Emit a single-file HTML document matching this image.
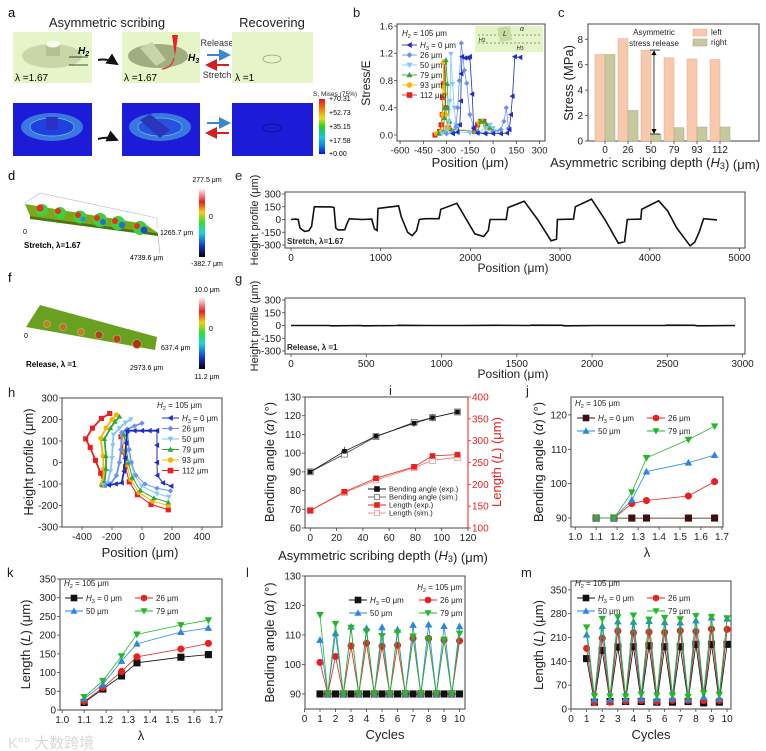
<!DOCTYPE html>
<html><head><meta charset="utf-8"><title>Asymmetric scribing figure</title>
<style>
html,body{margin:0;padding:0;background:#fff;}
svg{display:block;font-family:"Liberation Sans",Arial,sans-serif;}
</style></head>
<body>
<svg id="fig" xmlns="http://www.w3.org/2000/svg" width="766" height="751" viewBox="0 0 766 751">
<defs>
<linearGradient id="gMises" x1="0" y1="0" x2="0" y2="1">
<stop offset="0" stop-color="#e81010"/><stop offset="0.2" stop-color="#f08a10"/><stop offset="0.35" stop-color="#e8e010"/><stop offset="0.5" stop-color="#20d020"/><stop offset="0.7" stop-color="#10c8e0"/><stop offset="0.85" stop-color="#1080f0"/><stop offset="1" stop-color="#1010e0"/>
</linearGradient>
<linearGradient id="gHeight" x1="0" y1="0" x2="0" y2="1">
<stop offset="0" stop-color="#ffffff"/><stop offset="0.2" stop-color="#e82020"/><stop offset="0.35" stop-color="#f0d010"/><stop offset="0.5" stop-color="#30e030"/><stop offset="0.65" stop-color="#20d0e0"/><stop offset="0.85" stop-color="#1030d0"/><stop offset="1" stop-color="#000010"/>
</linearGradient>
<marker id="ahB" markerWidth="6" markerHeight="6" refX="5" refY="3" orient="auto"><path d="M0,0 L6,3 L0,6 z" fill="#111"/></marker>
<marker id="ahBl" markerWidth="6" markerHeight="6" refX="5" refY="3" orient="auto"><path d="M0,0 L6,3 L0,6 z" fill="#3a86d0"/></marker>
<marker id="ahR" markerWidth="6" markerHeight="6" refX="5" refY="3" orient="auto"><path d="M0,0 L6,3 L0,6 z" fill="#d02020"/></marker>
</defs>

<g>
<text x="8" y="17" font-size="13">a</text>
<text x="107" y="27" font-size="13" text-anchor="middle" fill="#222">Asymmetric scribing</text>
<text x="272" y="27" font-size="13" text-anchor="middle" fill="#222">Recovering</text>
<rect x="13" y="32" width="79" height="51" fill="#e6f5c8"/>
<ellipse cx="52" cy="56" rx="30" ry="12" fill="#c9d6a8"/>
<rect x="46" y="44" width="14" height="12" fill="#b3c290"/>
<ellipse cx="53" cy="44" rx="7" ry="3.5" fill="#fafaf0"/>
<line x1="69" y1="57" x2="88" y2="57" stroke="#111" stroke-width="0.7"/>
<line x1="69" y1="65" x2="88" y2="65" stroke="#111" stroke-width="0.7"/>
<text x="78" y="54" font-size="10" font-weight="bold" font-style="italic">H<tspan font-size="7" dy="2">2</tspan></text>
<text x="15" y="81" font-size="10">λ =1.67</text>
<path d="M98,60 Q108,58 117,64" stroke="#111" stroke-width="2" fill="none" marker-end="url(#ahB)"/>
<rect x="122" y="32" width="78" height="51" fill="#e6f5c8"/>
<ellipse cx="158" cy="56" rx="30" ry="12" fill="#9eae80"/>
<polygon points="140,48 152,42 166,60 156,66" fill="#c8d5a8"/>
<polygon points="172,35 178,35 175,56" fill="#e82020"/>
<path d="M174,58 Q172,68 162,69" stroke="#e03030" stroke-width="1.2" fill="none"/>
<text x="188" y="61" font-size="10" font-weight="bold" font-style="italic">H<tspan font-size="7" dy="2">3</tspan></text>
<text x="124" y="81" font-size="10">λ =1.67</text>
<text x="217" y="46" font-size="9" text-anchor="middle" fill="#333">Release</text>
<line x1="207" y1="55" x2="229" y2="55" stroke="#3a86d0" stroke-width="2" marker-end="url(#ahBl)"/>
<line x1="229" y1="65" x2="207" y2="65" stroke="#d02020" stroke-width="2" marker-end="url(#ahR)"/>
<text x="217" y="78" font-size="9" text-anchor="middle" fill="#333">Stretch</text>
<rect x="232" y="32" width="81" height="51" fill="#e6f5c8"/>
<ellipse cx="272" cy="59" rx="9" ry="4" fill="none" stroke="#9a9a80" stroke-width="0.8"/>
<text x="235" y="81" font-size="10">λ =1</text>
<rect x="13" y="103" width="79" height="53" fill="#1c1cd8"/>
<ellipse cx="52" cy="127" rx="31" ry="14" fill="#3a78e0"/>
<ellipse cx="52" cy="127" rx="22" ry="9" fill="#2040e0" stroke="#60c0e0" stroke-width="0.7"/>
<rect x="46" y="117" width="12" height="13" fill="#2a30c8"/>
<rect x="122" y="103" width="78" height="53" fill="#1c1cd8"/>
<ellipse cx="160" cy="127" rx="31" ry="14" fill="#3a78e0"/>
<ellipse cx="160" cy="127" rx="22" ry="9" fill="#2a50e0" stroke="#60c0e0" stroke-width="0.7"/>
<polygon points="140,120 150,114 170,130 160,138" fill="#2a36b8"/>
<path d="M98,139 Q108,136 117,140" stroke="#111" stroke-width="2" fill="none" marker-end="url(#ahB)"/>
<line x1="207" y1="123" x2="229" y2="123" stroke="#3a86d0" stroke-width="2" marker-end="url(#ahBl)"/>
<line x1="229" y1="133" x2="207" y2="133" stroke="#d02020" stroke-width="2" marker-end="url(#ahR)"/>
<rect x="232" y="103" width="81" height="53" fill="#1c1cd8"/>
<ellipse cx="272" cy="128" rx="9" ry="4" fill="none" stroke="#101070" stroke-width="0.8"/>
<text x="313" y="96" font-size="6.5" fill="#222">S, Mises (75%)</text>
<rect x="319" y="99" width="6" height="55" fill="url(#gMises)"/>
<text x="329" y="101" font-size="7">+70.31</text>
<text x="329" y="115" font-size="7">+52.73</text>
<text x="329" y="129" font-size="7">+35.15</text>
<text x="329" y="143" font-size="7">+17.58</text>
<text x="329" y="156" font-size="7">+0.00</text>
</g>

<g>
<text x="8" y="180" font-size="13">d</text>
<polyline points="25,203 40,193 157,218 157,228" fill="none" stroke="#bbb" stroke-width="0.6"/>
<polygon points="25,204 145,224 158,233 30,216" fill="#7aa818"/>
<polygon points="30,216 158,233 158,236 30,219" fill="#4a7810"/>
<g>
<circle cx="42" cy="210" r="6" fill="#3ed040"/><circle cx="40" cy="208" r="3.5" fill="#e83020"/>
<circle cx="60" cy="213" r="6" fill="#3ed040"/><circle cx="58" cy="211" r="3" fill="#e83020"/>
<circle cx="80" cy="217" r="6.5" fill="#3ed040"/><circle cx="78" cy="215" r="3" fill="#e83020"/><circle cx="83" cy="219" r="2.5" fill="#2090e0"/>
<circle cx="100" cy="220" r="7" fill="#3ed040"/><circle cx="97" cy="218" r="3" fill="#e83020"/><circle cx="103" cy="222" r="3" fill="#2070d0"/>
<circle cx="118" cy="223" r="7" fill="#3ed040"/><circle cx="115" cy="221" r="3" fill="#e83020"/><circle cx="122" cy="225" r="3.2" fill="#2070d0"/>
<circle cx="140" cy="228" r="7" fill="#3ed040"/><circle cx="137" cy="226" r="3" fill="#e83020"/><circle cx="144" cy="230" r="3.5" fill="#1850c0"/>
</g>
<line x1="158" y1="236" x2="160" y2="254" stroke="#aaa" stroke-width="0.6"/>
<text x="23" y="234" font-size="7">0</text>
<text x="160" y="235" font-size="7">1265.7 μm</text>
<text x="130" y="260" font-size="7">4739.6 μm</text>
<text x="24" y="248" font-size="8" font-weight="bold">Stretch, λ=1.67</text>
<rect x="199" y="188" width="6" height="69" fill="url(#gHeight)"/>
<text x="207" y="182" font-size="7" text-anchor="middle">277.5 μm</text>
<text x="209" y="219" font-size="7">0</text>
<text x="207" y="266" font-size="7" text-anchor="middle">-382.7 μm</text>
</g>

<g>
<text x="8" y="282" font-size="13">f</text>
<polygon points="40,305 157,337 155,350 26,327" fill="#6aa020"/>
<g>
<circle cx="47" cy="324" r="3.5" fill="#c87a28" stroke="#a0c060" stroke-width="0.8"/>
<circle cx="63" cy="327" r="3.5" fill="#c86a28" stroke="#a0c060" stroke-width="0.8"/>
<circle cx="81" cy="332" r="3.5" fill="#c87a28" stroke="#a0c060" stroke-width="0.8"/>
<circle cx="99" cy="335" r="4" fill="#b84020" stroke="#a0c060" stroke-width="0.8"/>
<circle cx="117" cy="339" r="4" fill="#b84020" stroke="#a0c060" stroke-width="0.8"/>
<circle cx="137" cy="344" r="4.5" fill="#b03018" stroke="#a0c060" stroke-width="0.8"/>
</g>
<text x="24" y="338" font-size="7">0</text>
<text x="161" y="350" font-size="7">637.4 μm</text>
<text x="130" y="370" font-size="7">2973.6 μm</text>
<text x="26" y="367" font-size="8" font-weight="bold">Release, λ =1</text>
<rect x="199" y="297" width="6" height="72" fill="url(#gHeight)"/>
<text x="207" y="292" font-size="7" text-anchor="middle">10.0 μm</text>
<text x="209" y="331" font-size="7">0</text>
<text x="207" y="379" font-size="7" text-anchor="middle">11.2 μm</text>
</g>

<text x="8" y="748" font-size="15" fill="#d8d8d8" font-family="Liberation Sans, Noto Sans CJK SC, sans-serif">K°° 大数跨境</text>
</svg>

<script>
// ---------- DATA ----------
const bLabels=['0','26','50','79','93','112'];
const bX0=[-260,-230,-215,-208,-205,-200,-180,-160,-150,-135,-125,-100,-50,0,50,90,105,115,125,140,175];
const bY0=[0.02,0.04,0.15,0.5,0.9,1.15,1.13,1.13,1.15,0.6,0.1,0.03,0.02,0.02,0.02,0.03,0.08,0.3,0.57,1.15,1.14];
const bX26=[-300,-260,-240,-228,-218,-205,-185,-170,-150,-125,-100,-50,0,50,70,85,100];
const bY26=[0.02,0.04,0.12,0.4,0.8,1.35,0.95,0.76,0.3,0.12,0.04,0.03,0.05,0.08,0.2,0.4,0.1];
const bX50=[-330,-300,-285,-278,-272,-262,-250,-240,-225,-150,-100,-50,-20,0,30];
const bY50=[0.02,0.05,0.2,0.5,1.19,0.75,0.4,0.15,0.05,0.03,0.03,0.1,0.15,0.1,0.05];
const bX79=[-350,-320,-315,-310,-304,-295,-290,-280,-270,-100,-80,-60,-40,-20,0];
const bY79=[0.02,0.05,0.25,0.4,1.1,0.75,0.4,0.2,0.08,0.05,0.2,0.2,0.15,0.1,0.05];
const bX93=[-365,-335,-325,-322,-320,-312,-305,-295,-110,-90,-70,-50,-30];
const bY93=[0.02,0.05,0.3,0.7,1.07,0.6,0.3,0.1,0.05,0.18,0.2,0.15,0.1];
const bX112=[-375,-345,-335,-328,-325,-320,-314,-305,-295,-120,-100,-80,-60,-40];
const bY112=[0.0,0.05,0.15,0.3,0.55,0.75,1.07,0.4,0.1,0.05,0.15,0.2,0.2,0.12];
const bXTicks=[-600,-450,-300,-150,0,150,300];
const bYTicks=[0,0.4,0.8,1.2,1.6];
const cCats=['0','26','50','79','93','112'];
const cLeft=[6.8,8.05,7.15,6.55,6.45,6.4];
const cRight=[6.8,2.4,0.55,1.05,1.1,1.1];
const cYTicks=[0,2,4,6,8];
const ePos=[0,50,80,100,150,200,230,260,300,450,480,500,530,600,620,650,700,800,900,930,960,970,1200,1230,1300,1350,1400,1430,1500,1650,1670,1850,1900,2050,2150,2200,2220,2400,2420,2600,2750,2900,2960,2970,3150,3170,3350,3500,3650,3720,3750,3900,3910,4100,4200,4300,4450,4500,4550,4600,4750];
const eHeight=[0,5,0,-100,-140,-130,-80,150,150,148,140,-100,-125,-120,-60,10,5,0,5,-110,-130,130,160,30,-150,-190,-130,0,10,10,120,190,100,-170,-200,-130,0,0,140,215,0,-250,-230,0,5,150,240,0,-280,-260,0,5,120,220,100,-100,-310,-270,-150,10,-5];
const eXTicks=[0,1000,2000,3000,4000,5000];
const eYTicks=[300,150,0,-150,-300];
const gPos=[0,250,270,460,480,700,720,900,1150,1350,1580,1600,1800,1820,2030,2250,2480,2500,2680,2700,2950];
const gHeight=[0,0,-3,0,-3,0,2,0,0,2,0,4,2,-3,0,0,0,3,2,-3,0];
const gXTicks=[0,500,1000,1500,2000,2500,3000];
const gYTicks=[300,150,0,-150,-300];
const hLabels=['0','26','50','79','93','112'];
const hArm1X=[[-220,-175,-135,-120,-112,-105,-100,-50,0,50,100],[-240,-210,-170,-150,-140,-135,-100,-50,0],[-255,-230,-210,-200,-195,-190,-150,-110,-75],[-265,-250,-240,-240,-250,-210,-180,-150],[-270,-260,-255,-260,-275,-240,-200,-170],[-250,-275,-310,-345,-375,-330,-270,-215]];
const hArm1Y=[[-105,-100,-95,-40,20,90,148,148,148,148,148],[-105,-100,-60,0,60,140,155,170,183],[-105,-95,-40,20,80,130,160,185,200],[-105,-90,-30,30,110,160,190,213],[-105,-90,-30,30,112,160,200,222],[-105,-50,10,70,110,160,205,228]];
const hArm2X=[[100,100,100,102,140,195],[-95,-85,-70,-40,20,100,190],[-100,-90,-75,-50,0,100,180],[-120,-105,-90,-65,-10,80,175],[-130,-115,-100,-75,-20,70,175],[-140,-125,-110,-85,-30,60,175]];
const hArm2Y=[[148,80,0,-60,-95,-110],[140,60,0,-60,-100,-120,-132],[135,60,0,-60,-110,-145,-160],[130,60,0,-70,-130,-165,-185],[125,50,-10,-80,-140,-180,-200],[120,50,-20,-90,-150,-195,-220]];
const hXTicks=[-400,-200,0,200,400];
const hYTicks=[-300,-200,-100,0,100,200,300];
const iDepth=[0,26,50,79,93,112];
const iAngleExp=[90,101,109,116,119,122];
const iAngleSim=[90,99.5,108.8,116.5,119,122];
const iAngleErr=[0.5,2.5,0.8,2,2,1.5];
const iLenExp=[140,183,214,240,265,268];
const iLenSim=[140,181,210,238,255,262];
const iLenErr=[5,4,5,4,3,4];
const iXTicks=[0,20,40,60,80,100,120];
const iYTicks=[60,70,80,90,100,110,120,130];
const iY2Ticks=[100,150,200,250,300,350,400];
const lambdaVals=[1.1,1.185,1.27,1.34,1.54,1.665];
const jAngle0=[90,90,90,90,90,90];
const jAngle26=[90,90,94.2,95.1,96.4,100.6];
const jAngle50=[90,90,95.3,103.5,106.1,108.3];
const jAngle79=[90,90,97.5,107.5,112.8,116.7];
const jXTicks=[1.0,1.1,1.2,1.3,1.4,1.5,1.6,1.7];
const jYTicks=[90,100,110,120];
const kLen0=[20,56,91,126,141,148];
const kLen26=[23,60,103,142,163,178];
const kLen50=[30,68,131,177,208,219];
const kLen79=[35,78,144,202,227,240];
const kYTicks=[0,50,100,150,200,250,300,350];
const cycles=[1,1.5,2,2.5,3,3.5,4,4.5,5,5.5,6,6.5,7,7.5,8,8.5,9,9.5,10];
const lAngle0=[90,90,90,90,90,90,90,90,90,90,90,90,90,90,90,90,90,90,90];
const lAngle26=[100.7,90,102.7,90,106.3,90,107.2,90,106.2,90,106.5,90,108.9,90,108.8,90,108.3,90,108];
const lAngle50=[108.3,90,110.6,90,112.8,90,112.3,90,112.6,90,111.8,90,113.4,90,113.5,90,113,90,112.9];
const lAngle79=[116.8,90,113.8,90,112.5,90,111.2,90,109.7,90,110.8,90,109.5,90,108.6,90,108.4,90,110.5];
const mLen0=[148,20,172,22,182,22,183,22,186,20,183,20,183,22,190,18,190,20,190];
const mLen26=[178,20,208,20,229,23,224,25,226,22,225,25,230,25,228,25,235,25,234];
const mLen50=[218,28,243,28,257,30,256,30,258,30,255,30,254,28,260,35,268,30,265];
const mLen79=[240,38,265,37,270,37,275,43,263,40,268,40,264,36,274,47,271,42,267];
const cycTicks=[0,1,2,3,4,5,6,7,8,9,10];
const lYTicks=[90,100,110,120,130];
const mYTicks=[0,70,140,210,280,350];

// ---------- HELPERS ----------
const NS='http://www.w3.org/2000/svg';
const svg=document.getElementById('fig');
function E(tag,attrs,name,parent){
  const e=document.createElementNS(NS,tag);
  for(const k in attrs) e.setAttribute(k,attrs[k]);
  
  
  (parent||svg).appendChild(e);
  return e;
}
function T(x,y,html,size,anchor,name,parent,extra){
  const t=E('text',Object.assign({x:x,y:y,'font-size':size,'text-anchor':anchor||'middle',fill:'#222'},extra||{}),name,parent);
  t.innerHTML=html;
  return t;
}
function lin(d0,d1,r0,r1){return v=>r0+(v-d0)*(r1-r0)/(d1-d0);}
function frame(g,p,name){
  E('rect',{x:p.x0,y:p.y0,width:p.x1-p.x0,height:p.y1-p.y0,fill:'none',stroke:'#444','stroke-width':1},name+'-frame',g);
  const fs=p.fs||10;
  p.xt.forEach(v=>{
    const x=p.X(v);
    E('line',{x1:x,y1:p.y1,x2:x,y2:p.y1+3,stroke:'#444','stroke-width':0.8},name+'-x-tick',g);
    T(x,p.y1+4+fs*0.9,(p.xf?p.xf(v):String(v)),fs,'middle',name+'-x-tick-label',g);
  });
  p.yt.forEach(v=>{
    const y=p.Y(v);
    E('line',{x1:p.x0-3,y1:y,x2:p.x0,y2:y,stroke:'#444','stroke-width':0.8},name+'-y-tick',g);
    T(p.x0-4,y+fs*0.35,(p.yf?p.yf(v):String(v)),fs,'end',name+'-y-tick-label',g);
  });
}
function ylabel(g,x,y,html,size,name,color){
  T(x,y,html,size,'middle',name,g,{transform:'rotate(-90 '+x+' '+y+')',fill:color||'#222'});
}
function mark(g,type,x,y,s,color,fill,name){
  const h=s/2;let e;
  if(type==='sq') e=E('rect',{x:x-h,y:y-h,width:s,height:s},name,g);
  else if(type==='ci') e=E('circle',{cx:x,cy:y,r:h},name,g);
  else if(type==='tu') e=E('polygon',{points:(x)+','+(y-h)+' '+(x+h)+','+(y+h*0.8)+' '+(x-h)+','+(y+h*0.8)},name,g);
  else if(type==='td') e=E('polygon',{points:(x)+','+(y+h)+' '+(x+h)+','+(y-h*0.8)+' '+(x-h)+','+(y-h*0.8)},name,g);
  else if(type==='tl') e=E('polygon',{points:(x-h)+','+y+' '+(x+h*0.8)+','+(y-h)+' '+(x+h*0.8)+','+(y+h)},name,g);
  else e=E('polygon',{points:x+','+(y-h)+' '+(x+h)+','+y+' '+x+','+(y+h)+' '+(x-h)+','+y},name,g);
  e.setAttribute('fill',fill||color);
  e.setAttribute('stroke',color);
  e.setAttribute('stroke-width',0.6);
  return e;
}
function series(g,xs,ys,X,Y,color,type,size,name,lw,fill){
  const pts=xs.map((v,i)=>X(v).toFixed(1)+','+Y(ys[i]).toFixed(1)).join(' ');
  E('polyline',{points:pts,fill:'none',stroke:color,'stroke-width':lw||0.8},name+'-line',g);
  xs.forEach((v,i)=>mark(g,type,X(v),Y(ys[i]),size,color,fill,name+'-point'));
}
function legendEntry(g,x,y,len,color,type,size,label,fs,name){
  E('line',{x1:x,y1:y,x2:x+len,y2:y,stroke:color,'stroke-width':0.9},name+'-line',g);
  mark(g,type,x+len/2,y,size,color,null,name+'-marker');
  T(x+len+3,y+fs*0.35,label,fs,'start',name+'-label',g);
}
const H2='<tspan font-style="italic">H</tspan><tspan font-size="70%" dy="2">2</tspan><tspan dy="-2"> = 105 μm</tspan>';
const H3='<tspan font-style="italic">H</tspan><tspan font-size="70%" dy="2">3</tspan><tspan dy="-2">';
function panelLabel(x,y,s){T(x,y,s,13,'start','panel-label-'+s,svg);}

// ---------- PANEL B ----------
(function(){
  const g=E('g',{},'panel-b');
  panelLabel(353,17,'b');
  const X=lin(-620,335,397,545), Y=lin(-0.088,1.63,141,24);
  const clip=E('clipPath',{id:'clipB'},'clip-b',g);
  E('rect',{x:397,y:24,width:148,height:117},'clip-b-rect',clip);
  frame(g,{x0:397,x1:545,y0:24,y1:141,X:X,Y:Y,xt:bXTicks,yt:bYTicks,fs:9.5,yf:v=>v.toFixed(1)},'b');
  const colors=['#1f2fbf','#6f8ff0','#7fc8f8','#2aa83a','#f8b400','#e8201f'];
  const types=['tl','dm','td','tu','ci','sq'];
  const xs=[bX0,bX26,bX50,bX79,bX93,bX112], ys=[bY0,bY26,bY50,bY79,bY93,bY112];
  const sg=E('g',{'clip-path':'url(#clipB)'},'b-series',g);
  for(let i=5;i>=0;i--) series(sg,xs[i],ys[i],X,Y,colors[i],types[i],4.5,'b-series-'+bLabels[i]);
  E('rect',{x:475,y:26,width:68,height:26,fill:'#e3f5c6'},'b-inset',g);
  E('line',{x1:478,y1:35,x2:540,y2:35,stroke:'#333','stroke-width':0.6,'stroke-dasharray':'2,2'},'b-inset-line',g);
  E('line',{x1:478,y1:43,x2:540,y2:43,stroke:'#333','stroke-width':0.6,'stroke-dasharray':'2,2'},'b-inset-line-2',g);
  E('polygon',{points:'497,28 510,26 512,40 500,42',fill:'#c8d9a4'},'b-inset-pillar',g);
  T(505,36,'<tspan font-style="italic">L</tspan>',7,'middle','b-inset-L',g);
  T(522,31,'<tspan font-style="italic">α</tspan>',7,'middle','b-inset-alpha',g);
  T(482,42,'<tspan font-style="italic">H</tspan><tspan font-size="5">2</tspan>',6,'middle','b-inset-h2',g);
  T(520,50,'<tspan font-style="italic">H</tspan><tspan font-size="5">3</tspan>',6,'middle','b-inset-h3',g);
  T(402,36,H2,8,'start','b-legend-title',g);
  bLabels.forEach((l,i)=>{
    legendEntry(g,402,45+i*10,15,colors[i],types[i],5,(i===0?H3+' = 0 μm</tspan>':l+' μm'),8,'b-legend-'+l);
  });
  ylabel(g,370,83,'Stress/E',12,'b-y-axis-title');
  T(470,167,'Position (μm)',13,'middle','b-x-axis-title',g);
})();

// ---------- PANEL C ----------
(function(){
  const g=E('g',{},'panel-c');
  panelLabel(558,17,'c');
  const Y=lin(0,9.2,141,24);
  const cx=i=>605+i*23;
  E('rect',{x:588,y:24,width:171,height:117,fill:'none',stroke:'#444','stroke-width':1},'c-frame',g);
  cYTicks.forEach(v=>{E('line',{x1:585,y1:Y(v),x2:588,y2:Y(v),stroke:'#444','stroke-width':0.8},'c-y-tick',g);T(583,Y(v)+3.5,String(v),10,'end','c-y-tick-label',g);});
  cCats.forEach((c,i)=>{
    E('rect',{x:cx(i)-10,y:Y(cLeft[i]),width:10,height:Y(0)-Y(cLeft[i]),fill:'#f9c9ae',stroke:'#e0a890','stroke-width':0.5},'c-bar-left-'+c,g);
    E('rect',{x:cx(i),y:Y(cRight[i]),width:10,height:Y(0)-Y(cRight[i]),fill:'#c8c8a0',stroke:'#a8a880','stroke-width':0.5},'c-bar-right-'+c,g);
    E('line',{x1:cx(i),y1:141,x2:cx(i),y2:144,stroke:'#444','stroke-width':0.8},'c-x-tick',g);
    T(cx(i),153,c,10,'middle','c-x-tick-label',g);
  });
  E('rect',{x:693,y:29,width:14,height:7,fill:'#f9c9ae',stroke:'#e0a890','stroke-width':0.5},'c-legend-left-swatch',g);
  T(711,35,'left',8,'start','c-legend-left-label',g);
  E('rect',{x:693,y:39,width:14,height:7,fill:'#c8c8a0',stroke:'#a8a880','stroke-width':0.5},'c-legend-right-swatch',g);
  T(711,45,'right',8,'start','c-legend-right-label',g);
  T(654,35,'Asymmetric',8,'middle','c-annotation-line1',g);
  T(654,46,'stress release',8,'middle','c-annotation-line2',g);
  const ya=Y(cLeft[2]), yb=Y(cRight[2]);
  E('line',{x1:654,y1:ya+3,x2:654,y2:yb-3,stroke:'#111','stroke-width':0.8},'c-release-arrow',g);
  E('polygon',{points:'654,'+ya+' 651.5,'+(ya+5)+' 656.5,'+(ya+5)},'c-arrowhead-top',g);
  E('polygon',{points:'654,'+yb+' 651.5,'+(yb-5)+' 656.5,'+(yb-5)},'c-arrowhead-bottom',g);
  E('line',{x1:650,y1:ya,x2:660,y2:ya,stroke:'#111','stroke-width':0.8},'c-arrow-cap-top',g);
  E('line',{x1:650,y1:yb,x2:660,y2:yb,stroke:'#111','stroke-width':0.8},'c-arrow-cap-bottom',g);
  ylabel(g,573,83,'Stress (MPa)',13,'c-y-axis-title');
  T(655,167,'Asymmetric scribing depth ('+H3+'</tspan>) (μm)',13,'middle','c-x-axis-title',g);
})();

// ---------- PANEL E / G ----------
function profile(name,label,lx,ly,y0,y1,xmax,pos,hgt,xt,yt,cond){
  const g=E('g',{},'panel-'+name);
  panelLabel(lx,ly,label);
  const X=lin(0,xmax,291,742), Y=lin(-300,300,y1-3,y0+2);
  frame(g,{x0:285,x1:745,y0:y0,y1:y1,X:X,Y:Y,xt:xt,yt:yt,fs:10},name);
  const pts=pos.map((v,i)=>X(v).toFixed(1)+','+Y(hgt[i]).toFixed(1)).join(' ');
  E('polyline',{points:pts,fill:'none',stroke:'#111','stroke-width':1.6},name+'-profile-line',g);
  T(287,y1-4,cond,8,'start',name+'-condition',g,{'font-weight':'bold'});
  ylabel(g,258,(y0+y1)/2,'Height profile (μm)',11,name+'-y-axis-title');
  T(513,y1+24,'Position (μm)',12,'middle',name+'-x-axis-title',g);
}
profile('e','e',235,180,192,248,4750/0.9446,ePos,eHeight,eXTicks,eYTicks,'Stretch, λ=1.67');
profile('g','g',235,283,298,354,2970/0.9913,gPos,gHeight,gXTicks,gYTicks,'Release, λ =1');

// ---------- PANEL H ----------
(function(){
  const g=E('g',{},'panel-h');
  panelLabel(8,397,'h');
  const X=lin(-533,533,62,222), Y=lin(-300,300,527,398);
  frame(g,{x0:62,x1:222,y0:398,y1:527,X:X,Y:Y,xt:hXTicks,yt:hYTicks,fs:10},'h');
  const colors=['#1f2fbf','#6f8ff0','#7fc8f8','#2aa83a','#f8b400','#e8201f'];
  const types=['tl','dm','td','tu','ci','sq'];
  for(let i=5;i>=0;i--){
    series(g,hArm1X[i],hArm1Y[i],X,Y,colors[i],types[i],4.5,'h-series-'+hLabels[i]+'-arm1',1.8);
    series(g,hArm2X[i],hArm2Y[i],X,Y,colors[i],types[i],4.5,'h-series-'+hLabels[i]+'-arm2',1);
  }
  T(157,408,H2,8,'start','h-legend-title',g);
  hLabels.forEach((l,i)=>{
    legendEntry(g,162,418+i*10.5,17,colors[i],types[i],5,(i===0?H3+' = 0 μm</tspan>':l+' μm'),8,'h-legend-'+l);
  });
  ylabel(g,33,462,'Height profile (μm)',13,'h-y-axis-title');
  T(140,557,'Position (μm)',13,'middle','h-x-axis-title',g);
})();

// ---------- PANEL I ----------
(function(){
  const g=E('g',{},'panel-i');
  panelLabel(389,395,'i');
  const X=lin(-4,120,305,468), Y=lin(60,130,528,397), Y2=lin(100,400,528,397);
  frame(g,{x0:305,x1:468,y0:397,y1:528,X:X,Y:Y,xt:iXTicks,yt:iYTicks,fs:10},'i');
  E('line',{x1:468,y1:397,x2:468,y2:528,stroke:'#e8201f','stroke-width':1},'i-right-axis',g);
  iY2Ticks.forEach(v=>{E('line',{x1:468,y1:Y2(v),x2:471,y2:Y2(v),stroke:'#e8201f','stroke-width':0.8},'i-y2-tick',g);T(472,Y2(v)+3.5,String(v),10,'start','i-y2-tick-label',g,{fill:'#e8201f'});});
  iDepth.forEach((d,i)=>{
    E('line',{x1:X(d),y1:Y(iAngleExp[i]-iAngleErr[i]),x2:X(d),y2:Y(iAngleExp[i]+iAngleErr[i]),stroke:'#333','stroke-width':0.7},'i-angle-errorbar',g);
    E('line',{x1:X(d),y1:Y2(iLenExp[i]-iLenErr[i]),x2:X(d),y2:Y2(iLenExp[i]+iLenErr[i]),stroke:'#e8201f','stroke-width':0.7},'i-length-errorbar',g);
  });
  series(g,iDepth,iAngleSim,X,Y,'#444','sq',6,'i-angle-sim',0.8,'#fff');
  series(g,iDepth,iAngleExp,X,Y,'#111','sq',4,'i-angle-exp',0.8);
  series(g,iDepth,iLenSim,X,Y2,'#f07070','sq',6,'i-length-sim',0.8,'#fff');
  series(g,iDepth,iLenExp,X,Y2,'#e8201f','sq',5,'i-length-exp',0.8);
  legendEntry(g,368,489,18,'#111','sq',5,'Bending angle (exp.)',7.5,'i-legend-angle-exp');
  E('line',{x1:368,y1:497,x2:386,y2:497,stroke:'#444','stroke-width':0.8},'i-legend-angle-sim-line',g);
  mark(g,'sq',377,497,5,'#444','#fff','i-legend-angle-sim-marker');
  T(389,499.6,'Bending angle (sim.)',7.5,'start','i-legend-angle-sim-label',g);
  legendEntry(g,368,505,18,'#e8201f','sq',5,'Length (exp.)',7.5,'i-legend-length-exp');
  E('line',{x1:368,y1:513,x2:386,y2:513,stroke:'#f07070','stroke-width':0.8},'i-legend-length-sim-line',g);
  mark(g,'sq',377,513,5,'#f07070','#fff','i-legend-length-sim-marker');
  T(389,515.6,'Length (sim.)',7.5,'start','i-legend-length-sim-label',g);
  ylabel(g,274,462,'Bending angle (<tspan font-style="italic">α</tspan>) (°)',13,'i-y-axis-title');
  ylabel(g,501,462,'Length (<tspan font-style="italic">L</tspan>) (μm)',13,'i-y2-axis-title','#e8201f');
  T(383,560,'Asymmetric scribing depth ('+H3+'</tspan>) (μm)',13,'middle','i-x-axis-title',g);
})();

// ---------- 4-series panels ----------
function fourPanel(cfg){
  const g=E('g',{},'panel-'+cfg.name);
  panelLabel(cfg.lx,cfg.ly,cfg.name);
  frame(g,{x0:cfg.x0,x1:cfg.x1,y0:cfg.y0,y1:cfg.y1,X:cfg.X,Y:cfg.Y,xt:cfg.xt,yt:cfg.yt,fs:10,xf:cfg.xf},cfg.name);
  const colors=[cfg.c0||'#111','#e8201f','#2a86e0','#22b82a'];
  const types=['sq','ci','tu','td'];
  const names=['0','26','50','79'];
  cfg.ys.forEach((ys,i)=>series(g,cfg.xs,ys,cfg.X,cfg.Y,colors[i],types[i],6.5,cfg.name+'-series-'+names[i],0.8));
  const lx=cfg.legX, ly=cfg.legY;
  if(cfg.h2Right) T(cfg.x1-3,ly-10,H2,8,'end',cfg.name+'-legend-title',g);
  else T(cfg.x0+4,ly-12,H2,8,'start',cfg.name+'-legend-title',g);
  legendEntry(g,lx,ly,18,colors[0],'sq',6,H3+(cfg.name==='l'?' =0 μm':' = 0 μm')+'</tspan>',8,cfg.name+'-legend-0');
  legendEntry(g,lx+70,ly,18,colors[1],'ci',6,'26 μm',8,cfg.name+'-legend-26');
  legendEntry(g,lx,ly+13,18,colors[2],'tu',6,'50 μm',8,cfg.name+'-legend-50');
  legendEntry(g,lx+70,ly+13,18,colors[3],'td',6,'79 μm',8,cfg.name+'-legend-79');
  ylabel(g,cfg.ylx,(cfg.y0+cfg.y1)/2,cfg.ytitle,13,cfg.name+'-y-axis-title');
  T((cfg.x0+cfg.x1)/2,cfg.y1+cfg.xtOff,cfg.xtitle,13,'middle',cfg.name+'-x-axis-title',g);
}
const f1=v=>v.toFixed(1);
fourPanel({name:'j',lx:526,ly:395,x0:571,x1:723,y0:397,y1:527,X:lin(0.98,1.705,571,723),Y:lin(87.4,125.2,527,397),xt:jXTicks,yt:jYTicks,xf:f1,xs:lambdaVals,ys:[jAngle0,jAngle26,jAngle50,jAngle79],c0:'#3a1010',legX:577,legY:418,ylx:543,ytitle:'Bending angle (<tspan font-style="italic">α</tspan>) (°)',xtitle:'λ',xtOff:30});
fourPanel({name:'k',lx:7,ly:577,x0:60,x1:222,y0:579,y1:710,X:lin(0.99,1.727,60,222),Y:lin(0,350,710,579),xt:jXTicks,yt:kYTicks,xf:f1,xs:lambdaVals,ys:[kLen0,kLen26,kLen50,kLen79],legX:65,legY:598,ylx:30,ytitle:'Length (<tspan font-style="italic">L</tspan>) (μm)',xtitle:'λ',xtOff:30});
fourPanel({name:'l',lx:246,ly:577,x0:305,x1:465,y0:576,y1:709,X:lin(0,10.35,304.5,465),Y:lin(84.9,130,709,576),xt:cycTicks,yt:lYTicks,xs:cycles,ys:[lAngle0,lAngle26,lAngle50,lAngle79],legX:349,legY:600,h2Right:true,ylx:274,ytitle:'Bending angle (<tspan font-style="italic">α</tspan>) (°)',xtitle:'Cycles',xtOff:30});
fourPanel({name:'m',lx:521,ly:577,x0:571,x1:731,y0:581,y1:709,X:lin(0,10.25,571,731),Y:lin(0,376,709,581),xt:cycTicks,yt:mYTicks,xs:cycles,ys:[mLen0,mLen26,mLen50,mLen79],legX:577,legY:598,ylx:543,ytitle:'Length (<tspan font-style="italic">L</tspan>) (μm)',xtitle:'Cycles',xtOff:30});
</script>
</body></html>
